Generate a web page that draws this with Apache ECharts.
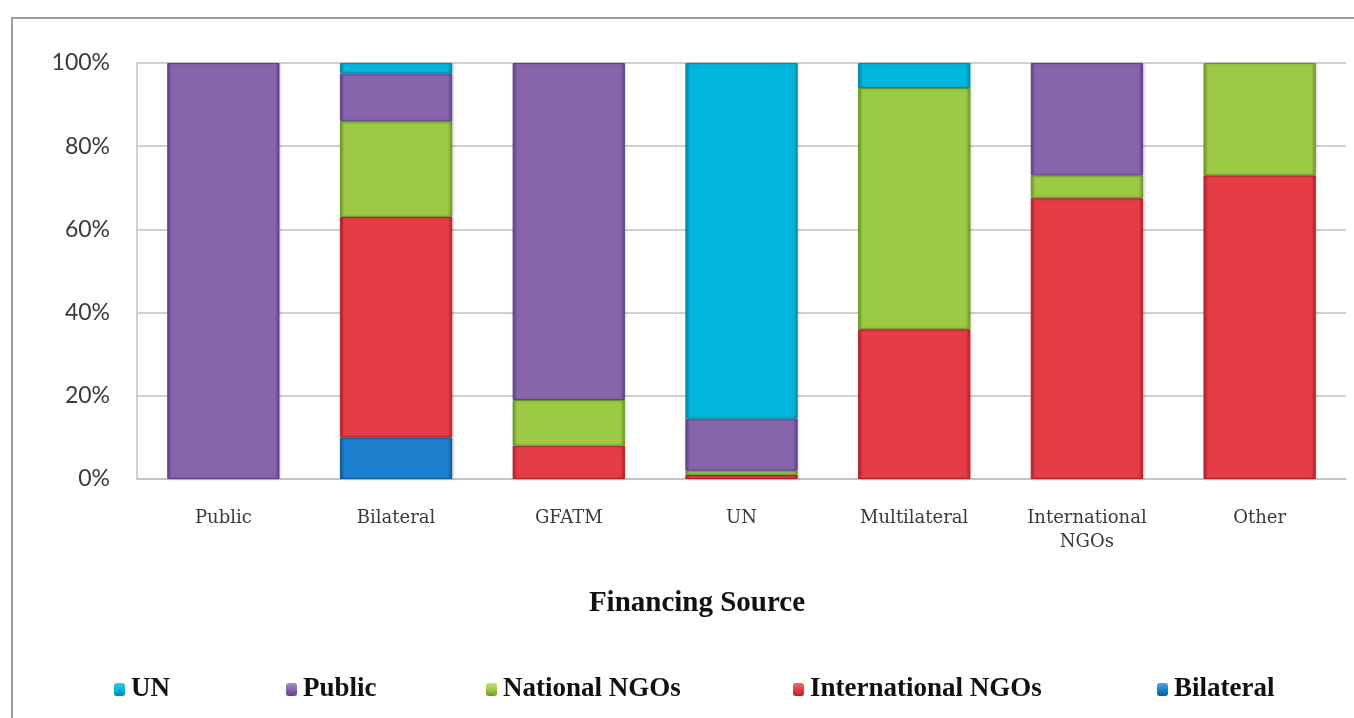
<!DOCTYPE html>
<html>
<head>
<meta charset="utf-8">
<script src="https://cdn.jsdelivr.net/npm/echarts@6/dist/echarts.min.js"></script>
<style>
  html, body { margin: 0; padding: 0; background: #ffffff; }
  #chart { width: 1354px; height: 718px; }
</style>
</head>
<body>
<div id="chart"></div>
<script>
// Financing sources on the x axis; each bar splits 100% among the agents
const categories = ['Public', 'Bilateral', 'GFATM', 'UN', 'Multilateral', 'International\nNGOs', 'Other'];

// Share (%) per agent, stacked from the bottom up
const bilateral     = [null, 10,   null, null, null, null, null];
const internatNGOs  = [null, 53,   8,    1,    36,   67.5, 73];
const nationalNGOs  = [null, 23,   11,   1,    58,   5.5,  27];
const publicShare   = [100,  11.5, 81,   12.5, null, 27,   null];
const unShare       = [null, 2.5,  null, 85.5, 6,    null, null];

const yTicks = [0, 20, 40, 60, 80, 100];

const palette = {
  'UN':                 { base: '#00B6DC', edge: '#0089A8', light: '#3CCBE8' },
  'Public':             { base: '#8665AD', edge: '#5D4286', light: '#A58BC6' },
  'National NGOs':      { base: '#9CCA45', edge: '#6C9828', light: '#C4E27A' },
  'International NGOs': { base: '#E63C45', edge: '#B0222B', light: '#F26870' },
  'Bilateral':          { base: '#1C80CE', edge: '#0E5A99', light: '#4BA8E8' }
};

function bevelFill(c) {
  return {
    type: 'linear', x: 0, y: 0, x2: 1, y2: 0,
    colorStops: [
      { offset: 0,    color: c.edge },
      { offset: 0.04, color: c.base },
      { offset: 0.96, color: c.base },
      { offset: 1,    color: c.edge }
    ]
  };
}

function legendFill(c) {
  return {
    type: 'linear', x: 0, y: 0, x2: 0, y2: 1,
    colorStops: [
      { offset: 0,   color: c.light },
      { offset: 0.5, color: c.base },
      { offset: 1,   color: c.edge }
    ]
  };
}

function stackSeries(name, data) {
  const c = palette[name];
  return {
    name: name,
    type: 'bar',
    stack: 'share',
    data: data,
    barCategoryGap: '35%',
    itemStyle: {
      color: bevelFill(c),
      borderColor: c.edge,
      borderWidth: 1,
      shadowColor: 'rgba(0,0,0,0.18)',
      shadowBlur: 3,
      shadowOffsetX: 1
    }
  };
}

const seriesList = [
  stackSeries('Bilateral', bilateral),
  stackSeries('International NGOs', internatNGOs),
  stackSeries('National NGOs', nationalNGOs),
  stackSeries('Public', publicShare),
  stackSeries('UN', unShare)
];

// One legend entry per block so each can sit at its own spot
const legendSpots = [
  ['UN', 114],
  ['Public', 286],
  ['National NGOs', 486],
  ['International NGOs', 793],
  ['Bilateral', 1157]
];

const legends = legendSpots.map(function (s) {
  return {
    data: [{ name: s[0], itemStyle: { color: legendFill(palette[s[0]]), borderWidth: 0 } }],
    left: s[1],
    top: 676,
    itemWidth: 11,
    itemHeight: 13,
    itemGap: 0,
    padding: 0,
    selectedMode: false,
    textStyle: {
      fontFamily: '"Liberation Serif", "DejaVu Serif", serif',
      fontWeight: 'bold',
      fontSize: 27,
      color: '#111111',
      padding: [0, 0, 0, 1]
    }
  };
});

const chart = echarts.init(document.getElementById('chart'), null, { renderer: 'canvas' });

chart.setOption({
  backgroundColor: '#ffffff',
  animation: false,
  legend: legends,
  grid: { left: 137, right: 8, top: 63, bottom: 239, containLabel: false },
  xAxis: {
    type: 'category',
    data: categories,
    axisLine: { show: true, lineStyle: { color: '#C0C0C0', width: 1.5 } },
    axisTick: { show: false },
    axisLabel: {
      margin: 27,
      fontFamily: '"DejaVu Serif", "Liberation Serif", serif',
      fontSize: 18,
      lineHeight: 24,
      color: '#3a3a3a',
      interval: 0
    }
  },
  yAxis: {
    type: 'value',
    min: yTicks[0],
    max: yTicks[yTicks.length - 1],
    interval: 20,
    axisLine: { show: true, lineStyle: { color: '#C0C0C0', width: 1.5 } },
    axisTick: { show: false },
    splitLine: { show: true, lineStyle: { color: '#C0C0C0', width: 1.5 } },
    axisLabel: {
      margin: 27,
      fontFamily: 'Lato, "Open Sans", sans-serif',
      fontSize: 23,
      color: '#3a3a3a',
      formatter: '{value}%'
    }
  },
  graphic: [
    {
      type: 'rect',
      silent: true,
      z: -10,
      shape: { x: 12, y: 18, width: 1360, height: 720 },
      style: { fill: 'none', stroke: '#9E9E9E', lineWidth: 2 }
    },
    {
      type: 'text',
      x: 697,
      y: 604,
      style: {
        text: 'Financing Source',
        align: 'center',
        verticalAlign: 'middle',
        font: 'bold 29px "Liberation Serif", "DejaVu Serif", serif',
        fill: '#111111'
      }
    }
  ],
  series: seriesList
});
</script>
</body>
</html>
